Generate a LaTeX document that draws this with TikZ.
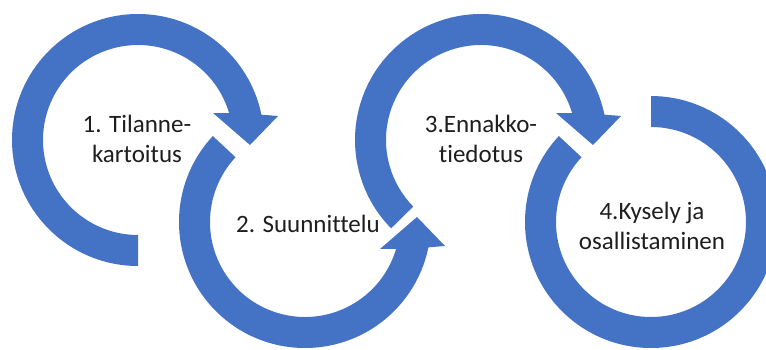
\documentclass[tikz,border=0pt]{standalone}
\usepackage{fontspec}
\setmainfont{Carlito}[Ligatures={NoCommon}]
\definecolor{ringblue}{RGB}{68,114,196}
\definecolor{labelc}{RGB}{30,30,30}
\begin{document}
\begin{tikzpicture}[x=1pt,y=1pt,
  ring/.style={fill=ringblue, draw=none},
  headring/.style={insert path={(#1:126) arc[start angle=#1, end angle=11.6, radius=126]
      -- (140,24) -- (112,-5) -- (75,27) -- (16.4:95)
      arc[start angle=16.4, end angle=#1, radius=95] -- cycle}},
  lbl/.style={text=labelc, font=\fontsize{25}{30}\selectfont, align=center, inner sep=0pt}]
\useasboundingbox (0,0) rectangle (766,349);
\clip (0,0) rectangle (766,349);
% ring 1
\begin{scope}[shift={(138,209)}]
  \fill[ring, headring=270];
\end{scope}
% ring 2 (mirrored)
\begin{scope}[shift={(305,127)}, yscale=-1]
  \fill[ring, headring=223];
\end{scope}
% ring 3
\begin{scope}[shift={(481,209)}]
  \fill[ring, headring=224.5];
\end{scope}
% ring 4
\begin{scope}[shift={(651,127)}]
  \fill[ring] (137:126) arc[start angle=137, end angle=450, radius=126]
    -- (90:95) arc[start angle=450, end angle=137, radius=95] -- cycle;
\end{scope}
\node[lbl] (t1) at (137,210) {1. Tilanne-\\kartoitus};
\node[lbl] (t2) at (308,125.5) {2. Suunnittelu};
\node[lbl] (t3) at (481,210) {3.Ennakko-\\tiedotus};
\node[lbl] (t4) at (652,123.5) {4.Kysely ja\\osallistaminen};
\end{tikzpicture}
\end{document}
